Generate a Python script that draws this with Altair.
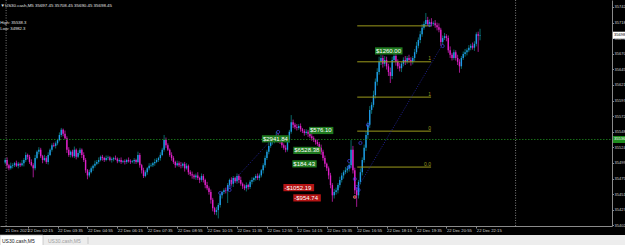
import altair as alt
import pandas as pd

# ---------------- data ----------------
FIRST_BAR = 15          # bar index = minutes after 22 Dec 00:00 / 5  (15 -> 01:15)
FIRST_OPEN = 35500

CLOSES = [
    35504, 35496, 35491, 35495, 35496, 35499, 35495, 35498, 35496, 35499, 35504, 35512, 35509, 35501, 35496,
    35491, 35507, 35517, 35520, 35510, 35504, 35507, 35501, 35512, 35520, 35527, 35526, 35530, 35535, 35543,
    35551, 35545, 35538, 35520, 35512, 35517, 35510, 35520, 35509, 35515, 35520, 35512, 35504, 35488, 35480,
    35485, 35491, 35495, 35498, 35501, 35504, 35509, 35507, 35504, 35507, 35508, 35504, 35505, 35507, 35506,
    35502, 35504, 35501, 35502, 35501, 35504, 35502, 35501, 35502, 35504, 35501, 35512, 35496, 35488, 35479,
    35485, 35491, 35495, 35496, 35499, 35501, 35504, 35507, 35512, 35520, 35535, 35527, 35520, 35512, 35507,
    35501, 35496, 35499, 35496, 35495, 35498, 35491, 35495, 35485, 35482, 35480, 35477, 35480, 35476, 35473,
    35479, 35473, 35465, 35460, 35454, 35442, 35429, 35423, 35426, 35434, 35449, 35454, 35457, 35456, 35465,
    35473, 35467, 35476, 35471, 35479, 35473, 35467, 35463, 35460, 35465, 35462, 35470, 35473, 35476, 35479,
    35476, 35480, 35488, 35496, 35507, 35517, 35526, 35532, 35535, 35538, 35541, 35535, 35532, 35527, 35523,
    35520, 35535, 35548, 35563, 35559, 35555, 35554, 35557, 35552, 35549, 35546, 35548, 35545, 35541, 35538,
    35535, 35532, 35529, 35523, 35517, 35507, 35498, 35491, 35480, 35465, 35449, 35454, 35457, 35465, 35473,
    35480, 35485, 35488, 35491, 35496, 35520, 35488, 35457, 35449, 35470, 35485, 35504, 35523, 35543, 35559,
    35582, 35590, 35605, 35626, 35641, 35657, 35663, 35654, 35660, 35650, 35641, 35635, 35660, 35666, 35657,
    35650, 35647, 35654, 35660, 35657, 35663, 35660, 35657, 35663, 35672, 35682, 35691, 35700, 35710, 35716,
    35722, 35716, 35719, 35716, 35717, 35714, 35711, 35707, 35688, 35694, 35697, 35694, 35675, 35668, 35663,
    35672, 35663, 35657, 35650, 35663, 35669, 35672, 35675, 35679, 35682, 35679, 35685, 35700, 35697.45, 35698.45,
]

UP_WICK = [
    3, 4, 2, 5, 3, 2, 4, 3, 2, 5, 3, 4, 2, 3, 4,
    3, 5, 2, 4, 3, 2, 5, 3, 4, 2, 3, 4, 3, 2, 4,
    3, 2, 5, 3, 4, 2, 3, 5, 2, 4, 3, 2, 4, 3, 2,
    4, 3, 2, 5, 3, 4, 2, 3, 2, 4, 3, 2, 3, 2, 4,
    2, 3, 4, 2, 3, 2, 4, 3, 2, 3, 2, 5, 3, 2, 4,
    3, 2, 4, 3, 2, 5, 3, 2, 4, 3, 8, 4, 3, 2, 4,
    3, 2, 4, 3, 5, 2, 3, 4, 2, 3, 4, 2, 3, 5, 2,
    4, 3, 2, 5, 3, 4, 3, 2, 5, 3, 4, 2, 3, 4, 3,
    2, 4, 3, 2, 4, 3, 5, 2, 3, 4, 2, 3, 4, 2, 3,
    4, 3, 2, 3, 4, 3, 5, 3, 4, 3, 7, 4, 3, 5, 3,
    4, 5, 3, 11, 4, 3, 5, 3, 4, 2, 3, 4, 3, 2, 4,
    3, 2, 4, 3, 5, 3, 4, 2, 3, 4, 3, 5, 4, 3, 5,
    4, 3, 5, 4, 3, 15, 6, 4, 5, 3, 6, 4, 5, 6, 5,
    6, 4, 7, 5, 6, 8, 5, 4, 6, 5, 4, 7, 5, 4, 6,
    4, 5, 3, 4, 6, 3, 5, 4, 3, 5, 6, 4, 5, 6, 4,
    11, 5, 4, 6, 3, 5, 4, 6, 3, 4, 5, 3, 4, 6, 3,
    4, 3, 5, 4, 3, 4, 5, 3, 4, 3, 5, 4, 3, 4, 10,
]

DN_WICK = [
    3, 5, 3, 2, 4, 3, 2, 4, 3, 2, 5, 3, 4, 3, 2,
    14, 3, 2, 4, 3, 5, 2, 3, 4, 2, 3, 2, 4, 3, 2,
    3, 4, 2, 5, 3, 4, 2, 3, 4, 2, 3, 5, 3, 4, 6,
    3, 2, 4, 3, 2, 3, 2, 4, 3, 2, 3, 2, 4, 3, 2,
    3, 2, 3, 2, 4, 3, 2, 3, 2, 4, 3, 2, 4, 5, 3,
    2, 4, 3, 2, 3, 4, 2, 3, 4, 2, 3, 4, 2, 3, 4,
    3, 4, 2, 3, 4, 3, 5, 2, 4, 3, 5, 3, 4, 3, 5,
    3, 4, 5, 3, 4, 6, 5, 4, 5, 13, 4, 5, 3, 4, 19,
    4, 3, 5, 3, 4, 5, 3, 4, 3, 5, 4, 3, 4, 3, 4,
    3, 4, 3, 5, 4, 3, 4, 3, 4, 5, 3, 4, 3, 4, 3,
    4, 3, 4, 3, 5, 3, 4, 3, 4, 3, 4, 3, 5, 3, 4,
    3, 4, 3, 4, 5, 4, 5, 4, 6, 5, 10, 5, 4, 5, 4,
    4, 5, 3, 4, 5, 4, 5, 6, 18, 5, 4, 5, 4, 5, 6,
    5, 6, 4, 5, 6, 4, 5, 6, 4, 5, 6, 11, 5, 4, 6,
    4, 5, 6, 4, 5, 3, 4, 6, 4, 5, 3, 4, 5, 4, 3,
    4, 3, 5, 4, 3, 4, 5, 4, 6, 4, 3, 5, 4, 5, 4,
    3, 4, 5, 10, 4, 3, 4, 5, 3, 4, 3, 5, 4, 25, 7,
]

SYMBOL = "US30.cash,M5"
HIGH_TEXT = "High: 35538.3"
LOW_TEXT = "Low: 34982.3"

Y_TICKS = [35742.4, 35718.1, 35693.8, 35669.5, 35645.2, 35620.9, 35596.6, 35572.3,
           35548.0, 35523.7, 35499.4, 35475.1, 35450.8, 35426.5, 35402.2]
X_LABEL_BARS = [14.9, 27, 43, 59, 75, 91, 107, 123, 139, 155, 171, 187, 203, 219, 235, 251, 267]
X_LABELS = ["21 Dec 2021", "22 Dec 02:15", "22 Dec 03:35", "22 Dec 04:55", "22 Dec 06:15",
            "22 Dec 07:35", "22 Dec 08:55", "22 Dec 10:15", "22 Dec 11:35", "22 Dec 12:55",
            "22 Dec 14:15", "22 Dec 15:35", "22 Dec 16:55", "22 Dec 18:15", "22 Dec 19:35",
            "22 Dec 20:55", "22 Dec 22:15"]

SEPARATOR_BARS = [15.5, 288]
LEVEL_LINE_PRICE = 35536.0

FIB_PRICES = [35713, 35657, 35602, 35549, 35493]
FIB_TEXT = ["", "1", "1", "0", "0.0"]
FIB_START = 203.3
FIB_END = 242.8

TREND_B1 = [202.8, 136.0]
TREND_P1 = [35457, 35468]
TREND_B2 = [248.1, 160.7]
TREND_P2 = [35680, 35546]

MARK_BARS = [130, 135, 135, 161, 199, 199, 205, 202, 203, 204, 209, 242, 249]
MARK_PRICES = [35452.6, 35457.3, 35462.0, 35547.7, 35502.5, 35493.0, 35530.5,
               35474.4, 35462.0, 35457.3, 35558.6, 35714.4, 35681.6]
CLOSE_DOT_BAR = [202]
CLOSE_DOT_PRICE = [35446.4]

LABEL_TEXT = ["$2941.84", "$576.10", "$6528.38", "$184.43", "-$1052.19", "-$954.74", "$1260.00"]
LABEL_BAR = [152.3, 177.5, 169.1, 168.6, 163.8, 169.1, 212.8]
LABEL_PRICE = [35537, 35550, 35519, 35498, 35461, 35445, 35674]

# ---------------- style ----------------
W, H = 612, 226
X_DOMAIN = [14.9, 336.9]
Y_DOMAIN = [35401.2, 35753.3]
PX_PER_BAR = W / (X_DOMAIN[1] - X_DOMAIN[0])
PRICE_PER_PX = (Y_DOMAIN[1] - Y_DOMAIN[0]) / H
FONT = "Liberation Sans"
BULL = "#1E9BEA"
BEAR = "#E020C8"
BULL_WICK = "#0B8080"
BEAR_WICK = "#C81EB4"
GRAY = "#8A8A8A"

xs = alt.Scale(domain=X_DOMAIN, nice=False, zero=False)
ys = alt.Scale(domain=Y_DOMAIN, nice=False, zero=False)
AX_X = alt.Axis(values=X_LABEL_BARS[1:], labels=False, tickSize=2, tickColor=GRAY,
                domainColor=GRAY, domainWidth=1, grid=False, title=None)
AX_Y = alt.Axis(orient="right", values=Y_TICKS, format=".0f", labelFont=FONT, labelFontSize=4.0,
                labelColor="#D0D0D0", labelPadding=0.6, tickSize=1.5, tickColor=GRAY,
                domainColor=GRAY, domainWidth=1, grid=False, labelOverlap=False,
                labelFlush=False, title=None)


def X(f):
    return alt.X(f, type="quantitative", scale=xs, axis=AX_X)


def Y(f):
    return alt.Y(f, type="quantitative", scale=ys, axis=AX_Y)


# ---------------- tables ----------------
rows = []
prev = FIRST_OPEN
for i, c in enumerate(CLOSES):
    o = prev
    bull = c >= o
    rows.append(dict(b=FIRST_BAR + i, o=o, c=c,
                     h=max(o, c) + UP_WICK[i], l=min(o, c) - DN_WICK[i],
                     body=BULL if bull else BEAR, wick=BULL_WICK if bull else BEAR_WICK))
    prev = c
candles = pd.DataFrame(rows)
last = candles.iloc[-1]

base = alt.Chart(candles)
wicks = base.mark_rule(strokeWidth=0.8).encode(
    x=X("b"), y=Y("l"), y2="h:Q", color=alt.Color("wick:N", scale=None))
bodies = base.mark_bar(width=1.4).encode(
    x=X("b"), y=Y("o"), y2="c:Q", color=alt.Color("body:N", scale=None))

lvl_df = pd.DataFrame({"p": [LEVEL_LINE_PRICE]})
level = alt.Chart(lvl_df).mark_rule(color="#1E8C1E", strokeDash=[1.5, 1.5], strokeWidth=0.8).encode(
    y=Y("p"), x=alt.value(0), x2=alt.value(W))

sep_df = pd.DataFrame({"b": SEPARATOR_BARS})
seps = alt.Chart(sep_df).mark_rule(color="#9A9A9A", strokeDash=[1, 1.5], strokeWidth=0.8).encode(
    x=X("b"), y=alt.value(0), y2=alt.value(H))

fib_df = pd.DataFrame({"p": FIB_PRICES, "t": FIB_TEXT, "b1": FIB_START, "b2": FIB_END})
fib = alt.Chart(fib_df).mark_rule(color="#9C9A1C", strokeWidth=1).encode(
    x=X("b1"), x2="b2:Q", y=Y("p"))
fib_txt = alt.Chart(fib_df).mark_text(color="#9C9A1C", font=FONT, fontSize=5, align="right",
                                      baseline="bottom", dy=-0.5).encode(
    x=X("b2"), y=Y("p"), text="t:N")

tr_df = pd.DataFrame({"b1": TREND_B1, "p1": TREND_P1, "b2": TREND_B2, "p2": TREND_P2})
trend = alt.Chart(tr_df).mark_rule(color="#2828B4", strokeDash=[1, 1.5], strokeWidth=0.8).encode(
    x=X("b1"), y=Y("p1"), x2="b2:Q", y2="p2:Q")

mk_df = pd.DataFrame({"b": MARK_BARS, "p": MARK_PRICES})
marks = alt.Chart(mk_df).mark_point(shape="circle", size=10, color="#4A4AFF", strokeWidth=0.9,
                                    filled=False).encode(x=X("b"), y=Y("p"))
cd_df = pd.DataFrame({"b": CLOSE_DOT_BAR, "p": CLOSE_DOT_PRICE})
cdot = alt.Chart(cd_df).mark_point(shape="circle", size=9, color="#FF3030", filled=True,
                                   stroke="#FFFFFF", strokeWidth=0.5).encode(x=X("b"), y=Y("p"))

lab_rows = []
for t, b, p in zip(LABEL_TEXT, LABEL_BAR, LABEL_PRICE):
    wpx = 3.25 * len(t) + 2
    lab_rows.append(dict(t=t, b1=b, b2=b + wpx / PX_PER_BAR,
                         p1=p - 3.6 * PRICE_PER_PX, p2=p + 3.6 * PRICE_PER_PX, p=p,
                         fill="#B41414" if t.startswith("-") else "#1F7A1F"))
lab_df = pd.DataFrame(lab_rows)
lab_box = alt.Chart(lab_df).mark_rect().encode(
    x=X("b1"), x2="b2:Q", y=Y("p1"), y2="p2:Q", color=alt.Color("fill:N", scale=None))
lab_txt = alt.Chart(lab_df).mark_text(color="white", font=FONT, fontSize=6, align="left",
                                      baseline="middle", dx=1).encode(
    x=X("b1"), y=Y("p"), text="t:N")

pb_df = pd.DataFrame({
    "p": [last.c, LEVEL_LINE_PRICE],
    "t": [f"{last.c:.0f}", f"{LEVEL_LINE_PRICE:.0f}"],
    "fill": ["#FFFFFF", "#1E8C1E"],
    "ink": ["#000000", "#FFFFFF"],
})
pb_df["p1"] = pb_df.p - 3.5 * PRICE_PER_PX
pb_df["p2"] = pb_df.p + 3.5 * PRICE_PER_PX
pbox = alt.Chart(pb_df).mark_rect().encode(
    x=alt.value(W + 1), x2=alt.value(W + 20), y=Y("p1"), y2="p2:Q",
    color=alt.Color("fill:N", scale=None))
ptxt = alt.Chart(pb_df).mark_text(font=FONT, fontSize=4.0, align="left", baseline="middle").encode(
    x=alt.value(W + 2), y=Y("p"), text="t:N", color=alt.Color("ink:N", scale=None))

xl_df = pd.DataFrame({"b": X_LABEL_BARS, "t": X_LABELS})
xlab = alt.Chart(xl_df).mark_text(color="#D0D0D0", font=FONT, fontSize=4.2, align="left",
                                  baseline="middle", dx=0.5).encode(
    x=X("b"), y=alt.value(H + 4.5), text="t:N")

one = pd.DataFrame({"k": [0]})


def free_text(t, x, y, size, color):
    return alt.Chart(one).mark_text(text=t, color=color, font=FONT, fontSize=size, align="left",
                                    baseline="middle").encode(x=alt.value(x), y=alt.value(y))


hdr = [
    free_text("\u25BC", 0.5, 5.5, 4.4, "#E0E0E0"),
    free_text(f"{SYMBOL}  {last.o:.2f} {last.h:.2f} {last.l:.2f} {last.c:.2f}", 5, 5.5, 4.4, "#E0E0E0"),
    free_text(HIGH_TEXT, 0.3, 22.5, 4.2, "#E0E0E0"),
    free_text(LOW_TEXT, 0.3, 29, 4.2, "#E0E0E0"),
]

tab_bg = alt.Chart(one).mark_rect(color="#EDEDED").encode(
    x=alt.value(0), x2=alt.value(625), y=alt.value(H + 9), y2=alt.value(245))
tab1 = alt.Chart(one).mark_rect(color="#FFFFFF", stroke="#B4B4B4", strokeWidth=0.6).encode(
    x=alt.value(0), x2=alt.value(43), y=alt.value(H + 9), y2=alt.value(246))
tab_sep = alt.Chart(one).mark_rule(color="#B4B4B4", strokeWidth=0.6).encode(
    x=alt.value(88), y=alt.value(H + 11), y2=alt.value(244))
tabs = [
    tab_bg, tab1, tab_sep,
    free_text(SYMBOL, 2, H + 14.5, 5, "#202020"),
    free_text(SYMBOL, 48, H + 14.5, 5, "#A0A0A0"),
]

chart = alt.layer(
    wicks, bodies, seps, level, fib, fib_txt, trend, marks, cdot, lab_box, lab_txt,
    pbox, ptxt, xlab, *hdr, *tabs,
).properties(
    width=W, height=H,
    padding={"left": 0, "top": 0, "right": 625 - W, "bottom": 245 - H},
    autosize=alt.AutoSizeParams(type="none"),
    background="#000000",
).configure_view(strokeWidth=0)

chart.save("out.html", embed_options={"renderer": "svg", "actions": False})
